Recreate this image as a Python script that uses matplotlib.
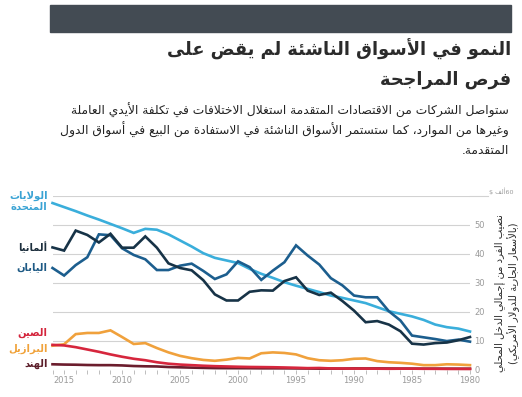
import re
import matplotlib
matplotlib.use("Agg")
import matplotlib.pyplot as plt
from matplotlib.patches import Rectangle
import numpy as np

# --- data, years run 2016 -> 1980 ---
years = np.arange(2016, 1979, -1)

usa = [57.4, 56.0, 54.6, 53.1, 51.7, 50.2, 48.7, 47.1, 48.5, 48.2, 46.6, 44.5,
       42.4, 40.1, 38.5, 37.6, 36.7, 34.7, 33.0, 31.6, 30.1, 28.9, 27.8, 26.7,
       25.5, 24.7, 23.8, 22.9, 21.5, 20.1, 19.2, 18.3, 17.1, 15.5, 14.6, 14.1, 13.1]
germany = [42.1, 41.0, 47.9, 46.4, 43.8, 46.8, 42.0, 42.0, 45.9, 42.0, 36.6, 35.0,
           34.2, 30.8, 25.9, 23.8, 23.8, 26.8, 27.3, 27.2, 30.5, 31.8, 27.2, 25.7,
           26.5, 23.6, 20.3, 16.3, 16.7, 15.5, 13.2, 8.9, 8.6, 9.1, 9.3, 10.1, 11.2]
japan = [35.0, 32.4, 36.0, 38.7, 46.6, 46.3, 41.8, 39.5, 38.0, 34.3, 34.3, 35.8,
         36.5, 34.0, 31.2, 32.8, 37.3, 35.3, 30.9, 34.1, 37.0, 42.8, 39.3, 36.2,
         31.5, 29.0, 25.5, 24.9, 24.9, 20.1, 16.9, 11.7, 11.1, 10.5, 9.8, 10.3, 9.6]
brazil = [8.2, 8.7, 12.2, 12.6, 12.6, 13.5, 11.2, 8.8, 9.1, 7.4, 5.9, 4.7,
          3.9, 3.3, 3.0, 3.4, 4.0, 3.8, 5.6, 5.9, 5.7, 5.2, 3.9, 3.2,
          3.0, 3.2, 3.7, 3.8, 2.9, 2.5, 2.3, 2.0, 1.5, 1.5, 1.8, 1.7, 1.5]
china = [8.5, 8.3, 7.7, 6.9, 6.1, 5.2, 4.4, 3.7, 3.2, 2.5, 2.0, 1.7,
         1.5, 1.3, 1.15, 1.05, 0.95, 0.87, 0.83, 0.78, 0.7, 0.6, 0.47, 0.52,
         0.37, 0.33, 0.32, 0.31, 0.28, 0.25, 0.28, 0.29, 0.25, 0.23, 0.2, 0.2, 0.19]
india = [1.8, 1.7, 1.65, 1.55, 1.5, 1.5, 1.4, 1.2, 1.1, 1.05, 0.85, 0.75,
         0.65, 0.56, 0.48, 0.46, 0.45, 0.44, 0.41, 0.41, 0.4, 0.37, 0.34, 0.3,
         0.32, 0.3, 0.37, 0.35, 0.36, 0.34, 0.31, 0.3, 0.28, 0.29, 0.28, 0.27, 0.27]

x_ticks = [2015, 2010, 2005, 2000, 1995, 1990, 1985, 1980]
y_ticks = [0, 10, 20, 30, 40, 50, 60]

title = ["النمو في الأسواق الناشئة لم يقض على", "فرص المراجحة"]
subtitle = ["ستواصل الشركات من الاقتصادات المتقدمة استغلال الاختلافات في تكلفة الأيدي العاملة",
            "وغيرها من الموارد، كما ستستمر الأسواق الناشئة في الاستفادة من البيع في أسواق الدول",
            "المتقدمة."]
ylabel = ["نصيب الفرد من إجمالي الدخل المحلي", "(بالأسعار الجارية للدولار الأمريكي)"]
unit_label = "60ألف $"

# --- minimal Arabic shaping + right-to-left ordering (matplotlib has no bidi) ---
RIGHT = {'آ': 0xFE81, 'أ': 0xFE83, 'ؤ': 0xFE85, 'إ': 0xFE87, 'ا': 0xFE8D, 'ة': 0xFE93,
         'د': 0xFEA9, 'ذ': 0xFEAB, 'ر': 0xFEAD, 'ز': 0xFEAF, 'و': 0xFEED, 'ى': 0xFEEF}
DUAL = {'ئ': 0xFE89, 'ب': 0xFE8F, 'ت': 0xFE95, 'ث': 0xFE99, 'ج': 0xFE9D, 'ح': 0xFEA1,
        'خ': 0xFEA5, 'س': 0xFEB1, 'ش': 0xFEB5, 'ص': 0xFEB9, 'ض': 0xFEBD, 'ط': 0xFEC1,
        'ظ': 0xFEC5, 'ع': 0xFEC9, 'غ': 0xFECD, 'ف': 0xFED1, 'ق': 0xFED5, 'ك': 0xFED9,
        'ل': 0xFEDD, 'م': 0xFEE1, 'ن': 0xFEE5, 'ه': 0xFEE9, 'ي': 0xFEF1}
LAM_ALEF = {'آ': 0xFEF5, 'أ': 0xFEF7, 'إ': 0xFEF9, 'ا': 0xFEFB}


def shape(s):
    items = []
    i = 0
    while i < len(s):
        if s[i] == 'ل' and i + 1 < len(s) and s[i + 1] in LAM_ALEF:
            items.append(('LA', s[i + 1]))
            i += 2
        else:
            items.append(s[i])
            i += 1

    def joins_next(it):
        return isinstance(it, str) and it in DUAL

    def joins_prev(it):
        return isinstance(it, tuple) or it in DUAL or it in RIGHT

    out = []
    for k, it in enumerate(items):
        p = k > 0 and joins_next(items[k - 1])
        n = k + 1 < len(items) and joins_prev(items[k + 1])
        if isinstance(it, tuple):
            out.append(chr(LAM_ALEF[it[1]] + (1 if p else 0)))
        elif it in DUAL:
            off = 3 if (p and n) else 1 if p else 2 if n else 0
            out.append(chr(DUAL[it] + off))
        elif it in RIGHT:
            out.append(chr(RIGHT[it] + (1 if p else 0)))
        elif it == 'ء':
            out.append('\uFE80')
        else:
            out.append(it)
    return ''.join(out)


def rtl(s):
    v = shape(s)[::-1]
    v = re.sub(r'[0-9]+', lambda m: m.group(0)[::-1], v)
    return v.translate(str.maketrans('()', ')('))


plt.rcParams['font.family'] = ['DejaVu Sans']

W, H = 522, 397
fig = plt.figure(figsize=(W / 100, H / 100), dpi=100)

# header bar
fig.patches.append(Rectangle((50 / W, 1 - 32 / H), 461 / W, 27 / H,
                             transform=fig.transFigure, color='#434b53', zorder=0))

fig.text(511 / W, 1 - 49 / H, rtl(title[0]), ha='right', va='center',
         fontsize=12.8, weight='bold', color='#2b2b2b')
fig.text(511 / W, 1 - 80 / H, rtl(title[1]), ha='right', va='center',
         fontsize=12.8, weight='bold', color='#2b2b2b')
for i, line in enumerate(subtitle):
    fig.text(509 / W, 1 - (110 + 20 * i) / H, rtl(line), ha='right', va='center',
             fontsize=8.8, color='#222222')

ax = fig.add_axes([52.5 / W, (H - 369.5) / H, 417.5 / W, 174 / H])
ax.set_xlim(2016, 1980)
ax.set_ylim(0, 60)

series = [
    (india, '#6b1d2d'),
    (brazil, '#f0a13c'),
    (china, '#d6263d'),
    (usa, '#3aaedb'),
    (japan, '#1c5e8e'),
    (germany, '#173347'),
]
for vals, col in series:
    ax.plot(years, vals, color=col, lw=1.9, solid_joinstyle='miter',
            clip_on=False, zorder=3)

for s in ax.spines.values():
    s.set_visible(False)

ax.set_yticks(y_ticks)
ax.set_yticklabels([str(v) for v in y_ticks[:-1]] + [''])
ax.yaxis.tick_right()
ax.tick_params(axis='y', length=0, pad=3, labelsize=6, labelcolor='#9a9a9a')
ax.grid(axis='y', color='#d2d2d2', lw=0.8)
ax.set_axisbelow(True)

ax.set_xticks(x_ticks)
ax.set_xticks(years, minor=True)
ax.tick_params(axis='x', which='both', length=3, width=0.7, color='#bdbdbd',
               labelsize=6, labelcolor='#9a9a9a', pad=2)

# "60 thousand $" label with extended gridline
ax.plot([1.0, 1.043], [60, 60], transform=ax.get_yaxis_transform(),
        color='#d2d2d2', lw=0.8, clip_on=False)
ax.text(1.045, 61.5, rtl(unit_label), transform=ax.get_yaxis_transform(),
        ha='left', va='center', fontsize=4.6, color='#9a9a9a')

# y axis title on the far right
fig.text(507 / W, 1 - 293 / H, '\n'.join(rtl(l) for l in ylabel), rotation=90,
         ha='center', va='center', multialignment='center', fontsize=7.2,
         color='#2b2b2b', linespacing=1.15)

# country labels at the start of the lines
labels = [
    ("الولايات\nالمتحدة", 58.1, '#3aa3d4'),
    ("ألمانيا", 42.2, '#1d2f3d'),
    ("اليابان", 35.3, '#1e5a85'),
    ("الصين", 12.6, '#d4253c'),
    ("البرازيل", 7.1, '#f0a23a'),
    ("الهند", 1.9, '#5c1e2a'),
]
for txt, yv, col in labels:
    ax.annotate('\n'.join(rtl(l) for l in txt.split('\n')), xy=(2016, yv),
                xytext=(-3.5, 0), textcoords='offset points', ha='right',
                va='center', multialignment='right', fontsize=7.2,
                weight='bold', color=col, linespacing=1.1,
                annotation_clip=False)

fig.savefig('out.png', dpi=100)
